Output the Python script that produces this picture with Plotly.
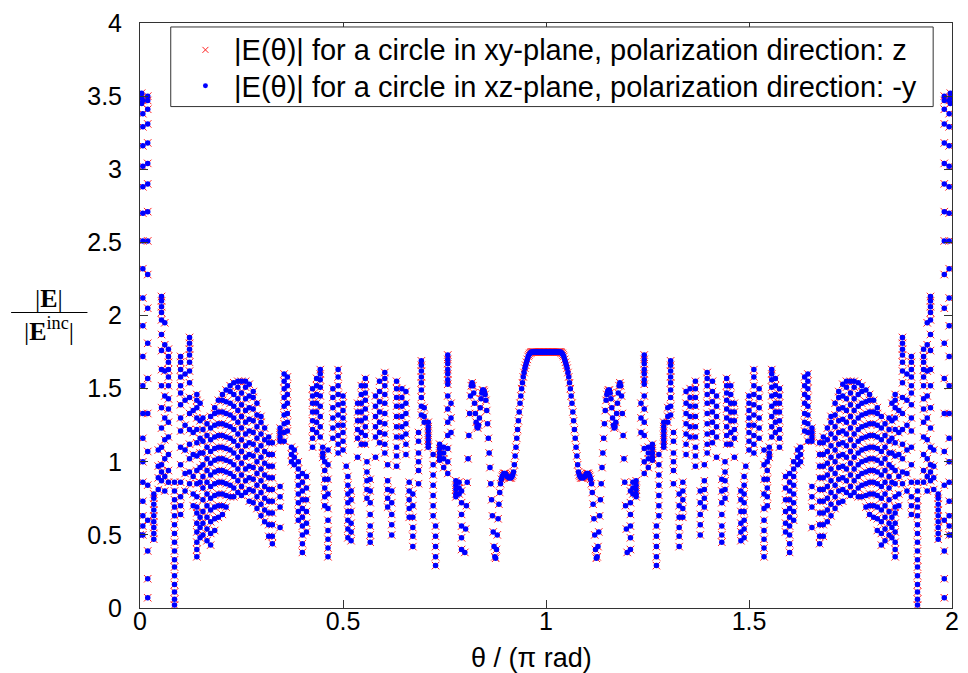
import plotly.graph_objects as go

# ---------------- data (left half, theta in units of pi) ----------------
STREAK_THETA = [
    0.000, 0.004, 0.007, 0.019, 0.034, 0.045, 0.053, 0.061, 0.070, 0.085,
    0.100, 0.111, 0.122, 0.131, 0.140, 0.148,
    0.155, 0.165, 0.174, 0.184, 0.193, 0.203, 0.212, 0.222, 0.231, 0.241,
    0.250, 0.260, 0.269, 0.279, 0.288, 0.298, 0.307, 0.317, 0.326,
    0.345, 0.355, 0.363, 0.373, 0.380, 0.390, 0.400, 0.410,
    0.425, 0.435, 0.444, 0.450, 0.455, 0.463,
    0.475, 0.488, 0.500, 0.508, 0.512, 0.520,
    0.536, 0.545, 0.555, 0.559, 0.567,
    0.580, 0.590, 0.603, 0.610, 0.620,
    0.632, 0.645, 0.655, 0.663, 0.672,
    0.686, 0.693, 0.700, 0.710, 0.722, 0.728,
    0.738, 0.748, 0.758, 0.766, 0.778, 0.786, 0.792,
]

STREAK_E = [
    [0.50],
    [3.52, 3.49, 3.45],
    [3.47, 3.38, 3.29, 3.16, 3.02, 2.88, 2.70, 2.51, 2.32, 2.12, 1.93, 1.72, 1.52, 1.33, 1.16, 1.00, 0.86, 0.73, 0.63, 0.56, 0.50],
    [3.50, 3.47, 3.41, 3.31, 3.18, 3.04, 2.90, 2.71, 2.51, 2.28, 2.05, 1.81, 1.57, 1.33, 1.07, 0.84, 0.60, 0.39, 0.20, 0.07],
    [0.78, 0.75, 0.71, 0.67, 0.63, 0.59, 0.55, 0.51, 0.47],
    [1.08, 0.97, 0.89, 0.81],
    [2.13, 2.10, 2.06, 2.02, 1.97, 1.87, 1.76, 1.63, 1.52, 1.37, 1.23, 1.10, 0.98, 0.93, 0.87],
    [1.95, 1.80, 1.62, 1.45, 1.30, 1.15, 1.02, 0.90, 0.80],
    [1.77, 1.72, 1.68, 1.63, 1.58, 1.52, 1.43, 1.36, 1.27, 1.17, 1.05, 0.94, 0.86],
    [0.86, 0.80, 0.74, 0.69, 0.63, 0.57, 0.51, 0.45, 0.39, 0.33, 0.28, 0.22, 0.16, 0.11, 0.06, 0.02],
    [1.72, 1.68, 1.63, 1.58, 1.52, 1.47, 1.39, 1.30, 1.21, 1.10, 0.98, 0.86, 0.76, 0.70, 0.64],
    [1.60, 1.42, 1.25, 1.08, 0.92, 0.80],
    [1.85, 1.81, 1.77, 1.73, 1.68, 1.62, 1.54, 1.44, 1.33, 1.22, 1.12, 1.02, 0.93, 0.85],
    [1.35, 1.20, 1.05, 0.90, 0.78, 0.70],
    [1.46, 1.42, 1.37, 1.30, 1.22, 1.13, 1.04, 0.94, 0.85, 0.76, 0.69, 0.65, 0.58, 0.52, 0.45, 0.40, 0.35],
    [1.40, 1.28, 1.16, 1.06, 0.96, 0.86, 0.62, 0.55, 0.48],
    # fan region (staggered lattice)
    [1.30, 1.22, 1.14, 1.06, 0.98, 0.90, 0.82, 0.74, 0.66, 0.58, 0.50],
    [1.26, 1.18, 1.10, 1.02, 0.94, 0.86, 0.78, 0.70, 0.62, 0.54, 0.46],
    [1.31, 1.23, 1.15, 1.07, 0.99, 0.91, 0.83, 0.75, 0.67, 0.59, 0.51, 0.43],
    [1.37, 1.33, 1.25, 1.17, 1.09, 1.01, 0.93, 0.85, 0.77, 0.69, 0.61, 0.53],
    [1.42, 1.34, 1.26, 1.18, 1.10, 1.02, 0.94, 0.86, 0.78, 0.70, 0.62],
    [1.46, 1.42, 1.34, 1.26, 1.18, 1.10, 1.02, 0.94, 0.86, 0.78, 0.70, 0.64],
    [1.49, 1.41, 1.33, 1.25, 1.17, 1.09, 1.01, 0.93, 0.85, 0.77, 0.69],
    [1.52, 1.48, 1.40, 1.32, 1.24, 1.16, 1.08, 1.00, 0.92, 0.84, 0.76],
    [1.54, 1.46, 1.38, 1.30, 1.22, 1.14, 1.06, 0.98, 0.90, 0.82, 0.76],
    [1.55, 1.51, 1.43, 1.35, 1.27, 1.19, 1.11, 1.03, 0.95, 0.87, 0.79],
    [1.55, 1.47, 1.39, 1.31, 1.23, 1.15, 1.07, 0.99, 0.91, 0.83, 0.77],
    [1.55, 1.51, 1.43, 1.35, 1.27, 1.19, 1.11, 1.03, 0.95, 0.87, 0.79],
    [1.53, 1.45, 1.37, 1.29, 1.21, 1.13, 1.05, 0.97, 0.89, 0.81, 0.73],
    [1.48, 1.44, 1.36, 1.28, 1.20, 1.12, 1.04, 0.96, 0.88, 0.80, 0.72],
    [1.40, 1.32, 1.24, 1.16, 1.08, 1.00, 0.92, 0.84, 0.76, 0.68],
    [1.31, 1.27, 1.19, 1.11, 1.03, 0.95, 0.87, 0.79, 0.71, 0.63],
    [1.23, 1.15, 1.07, 0.99, 0.91, 0.83, 0.75, 0.67, 0.59],
    [1.17, 1.13, 1.05, 0.97, 0.89, 0.81, 0.73, 0.65, 0.57, 0.49],
    [1.13, 1.05, 0.97, 0.89, 0.81, 0.73, 0.65, 0.57, 0.49, 0.44],
    # streak pairs
    [1.23, 1.20, 1.17, 1.14, 0.83, 0.76, 0.69, 0.55],
    [1.60, 1.55, 1.50, 1.44, 1.38, 1.32, 1.26, 1.20, 1.14],
    [1.58, 1.52, 1.46, 1.40, 1.33, 1.27, 1.21],
    [1.10, 1.05, 1.00],
    [1.08, 1.03, 0.98],
    [1.00, 0.95, 0.90, 0.84, 0.78, 0.72, 0.66, 0.60],
    [0.92, 0.86, 0.80, 0.74, 0.68, 0.62, 0.56, 0.50, 0.44, 0.38],
    [0.90, 0.82, 0.74, 0.66, 0.58, 0.52],
    [1.50, 1.45, 1.40, 1.34, 1.28, 1.22, 1.16, 1.10],
    [1.57, 1.52, 1.46, 1.40, 1.34, 1.27, 1.20],
    [1.63, 1.60, 1.56, 1.51, 1.45, 1.38, 1.31, 1.24, 1.17],
    [1.10, 1.06, 1.03],
    [1.00, 0.94, 0.88, 0.82, 0.76, 0.70],
    [1.08, 0.98, 0.88, 0.78, 0.68, 0.60, 0.53, 0.47, 0.41, 0.35],
    [1.50, 1.44, 1.37, 1.30, 1.23, 1.16],
    [1.63, 1.58, 1.52, 1.46, 1.39, 1.32, 1.25, 1.18, 1.12, 1.06],
    [1.45, 1.40, 1.35, 1.30, 1.25, 1.20, 1.14, 1.08],
    [0.97],
    [0.90, 0.84, 0.78, 0.72, 0.66, 0.60, 0.54, 0.48],
    [0.80, 0.74, 0.66, 0.58, 0.52, 0.46],
    [1.40, 1.34, 1.28, 1.22, 1.16, 1.03],
    [1.52, 1.46, 1.40, 1.34, 1.28, 1.20, 1.12],
    [1.57, 1.52, 1.47, 1.42, 1.36, 1.30, 1.24, 1.18, 1.12],
    [1.00, 0.93, 0.87, 0.81, 0.75],
    [0.88, 0.80, 0.72, 0.64, 0.56, 0.50, 0.45],
    [1.45, 1.38, 1.31, 1.24, 1.17, 1.03],
    [1.55, 1.48, 1.41, 1.34, 1.27, 1.20, 1.13],
    [1.61, 1.57, 1.52, 1.46, 1.40, 1.33, 1.26, 1.19, 1.12, 1.06],
    [0.98, 0.87, 0.81, 0.75, 0.69],
    [0.80, 0.72, 0.64, 0.57, 0.50],
    [1.55, 1.50, 1.44, 1.38, 1.31, 1.24, 1.17, 1.10, 1.04, 0.97],
    [1.50, 1.44, 1.38, 1.31, 1.24, 1.17],
    [1.48, 1.40, 1.33, 1.26, 1.19, 1.12, 1.05],
    [0.86, 0.80, 0.74, 0.68, 0.62],
    [0.78, 0.70, 0.62, 0.55, 0.49, 0.42],
    [1.20, 1.14, 1.06, 1.00, 0.94, 0.85],
    [1.69, 1.66, 1.62, 1.58, 1.54, 1.49, 1.44, 1.38, 1.32],
    [1.37, 1.31, 1.27],
    [1.27, 1.24, 1.21, 1.18, 1.15, 1.12, 1.10],
    [1.05, 0.98, 0.91, 0.84, 0.77, 0.70, 0.63],
    [0.56, 0.49, 0.42, 0.35, 0.29],
    [1.12, 1.09, 1.06, 1.03, 1.01],
    [1.10, 1.06, 1.02, 0.96],
    [1.73, 1.70, 1.67, 1.63, 1.60, 1.56, 1.53, 1.45, 1.36, 1.27, 1.18, 1.09, 1.00, 0.92],
    [1.40, 1.30, 1.20],
    [0.87, 0.84, 0.81, 0.78, 0.76],
    [0.86, 0.82, 0.78],
    [0.80, 0.72, 0.64, 0.56, 0.48, 0.40],
]

# smooth part near theta = pi, sampled every 0.002 from 0.800 to 1.000
SMOOTH_START = 0.800
SMOOTH_STEP = 0.002
SMOOTH_E = [
    0.38, 0.54, 0.70, 0.86, 1.02, 1.18, 1.33, 1.45, 1.52, 1.54,
    1.52, 1.47, 1.40, 1.33, 1.27, 1.24, 1.23, 1.25, 1.30, 1.37,
    1.43, 1.47, 1.49, 1.49, 1.48, 1.46, 1.42, 1.35, 1.26, 1.16,
    1.06, 0.96, 0.85, 0.74, 0.63, 0.52, 0.42, 0.35, 0.34, 0.40,
    0.50, 0.61, 0.71, 0.79, 0.85, 0.88, 0.90, 0.91, 0.92, 0.92,
    0.92, 0.91, 0.90, 0.90, 0.89, 0.89, 0.89, 0.89, 0.90, 0.91,
    0.93, 0.98, 1.04, 1.10, 1.16, 1.22, 1.28, 1.34, 1.40, 1.45,
    1.50, 1.54, 1.58, 1.61, 1.64, 1.66, 1.68, 1.70, 1.72, 1.73,
    1.74, 1.745, 1.75, 1.75, 1.75, 1.75, 1.75, 1.75, 1.75, 1.75,
    1.75, 1.75, 1.75, 1.75, 1.75, 1.75, 1.75, 1.75, 1.75, 1.75,
    1.75,
]

X_TICKS = [0, 0.5, 1, 1.5, 2]
X_TICKTEXT = ["0", "0.5", "1", "1.5", "2"]
Y_TICKS = [0, 0.5, 1, 1.5, 2, 2.5, 3, 3.5, 4]
Y_TICKTEXT = ["0", "0.5", "1", "1.5", "2", "2.5", "3", "3.5", "4"]

LEGEND_XY = "|E(\u03b8)| for a circle in xy-plane, polarization direction: z"
LEGEND_XZ = "|E(\u03b8)| for a circle in xz-plane, polarization direction: -y"
X_TITLE = "\u03b8 / (\u03c0 rad)"

# ---------------- assemble ----------------
theta_half, e_half = [], []
for t, vals in zip(STREAK_THETA, STREAK_E):
    for v in vals:
        theta_half.append(t)
        e_half.append(v)
for i, v in enumerate(SMOOTH_E):
    theta_half.append(round(SMOOTH_START + SMOOTH_STEP * i, 4))
    e_half.append(v)

# the pattern is mirror-symmetric about theta = pi
theta_all = theta_half + [2 - t for t in theta_half if t < 1]
e_all = e_half + [v for t, v in zip(theta_half, e_half) if t < 1]

W, H = 968, 673
ML, MR, MT, MB = 140, 9, 20, 65
PW, PH = W - ML - MR, H - MT - MB


def px(x):
    return (x - ML) / PW


def py(y):
    return (H - MB - y) / PH


fig = go.Figure()
fig.add_trace(go.Scatter(
    x=theta_all, y=e_all, mode="markers", name=LEGEND_XY, showlegend=False,
    marker=dict(symbol="x-thin-open", size=7.5, color="#ff2020",
                line=dict(color="#ff2020", width=1)),
))
fig.add_trace(go.Scatter(
    x=theta_all, y=e_all, mode="markers", name=LEGEND_XZ, showlegend=False,
    marker=dict(symbol="circle", size=5.5, color="#0000ff", line=dict(width=0)),
))

axis_common = dict(
    showline=True, linecolor="#333333", linewidth=1, mirror="ticks",
    ticks="inside", ticklen=8, tickcolor="#333333", tickwidth=1,
    showgrid=False, zeroline=False,
    tickfont=dict(family="Liberation Sans, Arial, sans-serif", size=25, color="black"),
)
fig.update_xaxes(range=[0, 2], tickvals=X_TICKS, ticktext=X_TICKTEXT,
                 ticklabelstandoff=-9, **axis_common)
fig.update_yaxes(range=[0, 4], tickvals=Y_TICKS, ticktext=Y_TICKTEXT,
                 ticklabelstandoff=12, **axis_common)

shapes = [
    # legend box
    dict(type="rect", xref="paper", yref="paper", x0=px(171), x1=px(940),
         y0=py(104), y1=py(24), line=dict(color="#333333", width=1),
         fillcolor="white", layer="above"),
    # legend red x
    dict(type="line", xref="paper", yref="paper", x0=px(203), x1=px(209),
         y0=py(44), y1=py(50), line=dict(color="#ff2020", width=1)),
    dict(type="line", xref="paper", yref="paper", x0=px(203), x1=px(209),
         y0=py(50), y1=py(44), line=dict(color="#ff2020", width=1)),
    # legend blue dot
    dict(type="circle", xref="paper", yref="paper", x0=px(203.5), x1=px(208.5),
         y0=py(85.5), y1=py(80.5), line=dict(color="#0000ff", width=0),
         fillcolor="#0000ff"),
    # y-title fraction bar
    dict(type="line", xref="paper", yref="paper", x0=px(10), x1=px(87),
         y0=py(311), y1=py(311), line=dict(color="black", width=1)),
]

leg_font = dict(family="Liberation Sans, Arial, sans-serif", size=29, color="black")
serif = dict(family="Liberation Serif, DejaVu Serif, serif", size=26, color="black")
annotations = [
    dict(text=LEGEND_XY, xref="paper", yref="paper", x=px(233), y=py(47),
         xanchor="left", yanchor="middle", showarrow=False, font=leg_font),
    dict(text=LEGEND_XZ, xref="paper", yref="paper", x=px(233), y=py(84),
         xanchor="left", yanchor="middle", showarrow=False, font=leg_font),
    dict(text=X_TITLE, xref="paper", yref="paper", x=px(535), y=py(658),
         xanchor="center", yanchor="middle", showarrow=False,
         font=dict(family="Liberation Sans, Arial, sans-serif", size=27, color="black")),
    dict(text="|<b>E</b>|", xref="paper", yref="paper", x=px(48), y=py(297),
         xanchor="center", yanchor="middle", showarrow=False, font=serif),
    dict(text="|<b>E</b><sup>inc</sup>|", xref="paper", yref="paper", x=px(48), y=py(328),
         xanchor="center", yanchor="middle", showarrow=False, font=serif),
]

fig.update_layout(
    width=W, height=H, margin=dict(l=ML, r=MR, t=MT, b=MB),
    paper_bgcolor="white", plot_bgcolor="white",
    shapes=shapes, annotations=annotations, showlegend=False,
)

fig.write_html("out.html")
